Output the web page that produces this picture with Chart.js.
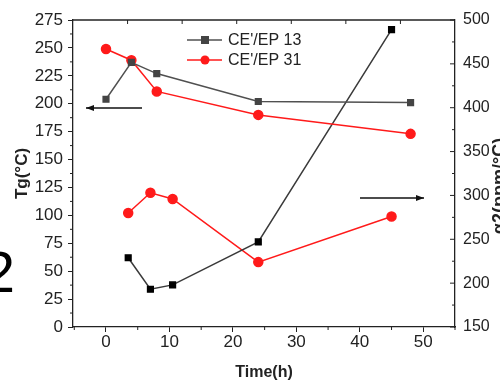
<!DOCTYPE html>
<html>
<head>
<meta charset="utf-8">
<script src="https://cdn.jsdelivr.net/npm/chart.js@4.4.1/dist/chart.umd.min.js"></script>
<style>
  html, body { margin: 0; padding: 0; background: #fff; }
  #wrap { width: 500px; height: 381px; }
</style>
</head>
<body>
<div id="wrap"><canvas id="c" width="500" height="381"></canvas></div>
<script>
// Tg series (left axis)
const tgTime = [0, 4, 8, 24, 48];
const tg13 = [204, 237, 227, 202, 201];
const tg31 = [249, 239, 211, 190, 173];

// alpha2 series (right axis)
const a2Time = [3.5, 7, 10.5, 24, 45];
const a2_13 = [229, 193, 198, 247, 489];
const a2_31 = [280, 303, 296, 224, 276];

const seriesNames = ["CE'/EP 13", "CE'/EP 31"];

const COLORS = {
  grayLine: '#505050',
  grayMark: '#444444',
  blackLine: '#3a3a3a',
  blackMark: '#000000',
  red: '#ff1a1a',
  axis: '#222222',
  text: '#222222',
};

const FONT = '"Liberation Sans", Arial, sans-serif';

function pts(xs, ys) {
  return xs.map((x, i) => ({ x: x, y: ys[i] }));
}

// minor ticks, box frame, arrows, legend and extra text
const decorPlugin = {
  id: 'decor',
  beforeDraw(chart) {
    const ctx = chart.ctx;
    ctx.save();
    ctx.fillStyle = '#fff';
    ctx.fillRect(0, 0, chart.width, chart.height);
    ctx.restore();
  },
  afterDraw(chart) {
    const ctx = chart.ctx;
    const a = chart.chartArea;
    const sx = chart.scales.x, yl = chart.scales.y, yr = chart.scales.y1;
    ctx.save();
    ctx.strokeStyle = COLORS.axis;
    ctx.lineWidth = 1.3;

    // frame top line
    ctx.beginPath();
    ctx.moveTo(a.left, a.top);
    ctx.lineTo(a.right, a.top);
    ctx.stroke();

    ctx.lineWidth = 1;
    ctx.beginPath();
    // top ticks (inward)
    for (let i = 1; i < 7; i++) {
      const px = a.left + (a.right - a.left) * i / 7;
      ctx.moveTo(px, a.top);
      ctx.lineTo(px, a.top + 4);
    }
    // bottom minor ticks
    for (let v = -5; v <= 55; v += 10) {
      const px = sx.getPixelForValue(v);
      if (px < a.left - 0.5 || px > a.right + 0.5) continue;
      ctx.moveTo(px, a.bottom);
      ctx.lineTo(px, a.bottom + 3);
    }
    // left minor ticks
    for (let v = 12.5; v < 275; v += 25) {
      const py = yl.getPixelForValue(v);
      ctx.moveTo(a.left, py);
      ctx.lineTo(a.left - 3, py);
    }
    // right ticks (inward), major + minor
    for (let v = 150; v <= 500; v += 25) {
      const py = yr.getPixelForValue(v);
      const len = (v % 50 === 0) ? 5 : 3;
      ctx.moveTo(a.right, py);
      ctx.lineTo(a.right - len, py);
    }
    ctx.stroke();

    // arrows
    function arrow(x1, x2, y) {
      ctx.strokeStyle = '#111';
      ctx.fillStyle = '#111';
      ctx.lineWidth = 1.3;
      ctx.beginPath();
      ctx.moveTo(x1, y);
      ctx.lineTo(x2, y);
      ctx.stroke();
      const dir = x2 > x1 ? 1 : -1;
      ctx.beginPath();
      ctx.moveTo(x2, y);
      ctx.lineTo(x2 - dir * 8, y - 3);
      ctx.lineTo(x2 - dir * 8, y + 3);
      ctx.closePath();
      ctx.fill();
    }
    arrow(142, 86, 108);
    arrow(360, 424, 198);

    // legend
    const items = [
      { y: 40, color: COLORS.grayLine, mark: COLORS.grayMark, style: 'rect' },
      { y: 60, color: COLORS.red, mark: COLORS.red, style: 'circle' },
    ];
    items.forEach((it, i) => {
      ctx.strokeStyle = it.color;
      ctx.lineWidth = 1.5;
      ctx.beginPath();
      ctx.moveTo(187, it.y);
      ctx.lineTo(222, it.y);
      ctx.stroke();
      ctx.fillStyle = it.mark;
      if (it.style === 'rect') {
        ctx.fillRect(201, it.y - 4, 8, 8);
      } else {
        ctx.beginPath();
        ctx.arc(205, it.y, 4.5, 0, Math.PI * 2);
        ctx.fill();
      }
      ctx.fillStyle = COLORS.text;
      ctx.font = '16px ' + FONT;
      ctx.textAlign = 'left';
      ctx.textBaseline = 'middle';
      ctx.fillText(seriesNames[i], 228, it.y + 1);
    });

    // right axis title, rotated like the left one, cut by the edge
    ctx.save();
    ctx.translate(500, 186);
    ctx.rotate(-Math.PI / 2);
    ctx.fillStyle = COLORS.text;
    ctx.font = 'bold 18px ' + FONT;
    ctx.textAlign = 'center';
    ctx.textBaseline = 'middle';
    ctx.fillText('\u03b12(ppm/\u00b0C)', 0, 0);
    ctx.restore();

    // large cropped "2" at the left edge
    ctx.fillStyle = '#000';
    ctx.font = '58px ' + FONT;
    ctx.textAlign = 'right';
    ctx.textBaseline = 'alphabetic';
    ctx.fillText('2', 15, 292);

    ctx.restore();
  }
};

const ctx = document.getElementById('c').getContext('2d');
new Chart(ctx, {
  type: 'line',
  data: {
    datasets: [
      {
        label: seriesNames[0],
        data: pts(tgTime, tg13),
        yAxisID: 'y',
        borderColor: COLORS.grayLine,
        backgroundColor: COLORS.grayMark,
        pointBackgroundColor: COLORS.grayMark,
        pointBorderColor: COLORS.grayMark,
        pointStyle: 'rect',
        pointRadius: 4,
        borderWidth: 1.5,
      },
      {
        label: seriesNames[1],
        data: pts(tgTime, tg31),
        yAxisID: 'y',
        borderColor: COLORS.red,
        backgroundColor: COLORS.red,
        pointBackgroundColor: COLORS.red,
        pointBorderColor: COLORS.red,
        pointStyle: 'circle',
        pointRadius: 4.5,
        borderWidth: 1.5,
      },
      {
        label: seriesNames[0] + ' a2',
        data: pts(a2Time, a2_13),
        yAxisID: 'y1',
        borderColor: COLORS.blackLine,
        backgroundColor: COLORS.blackMark,
        pointBackgroundColor: COLORS.blackMark,
        pointBorderColor: COLORS.blackMark,
        pointStyle: 'rect',
        pointRadius: 4,
        borderWidth: 1.5,
      },
      {
        label: seriesNames[1] + ' a2',
        data: pts(a2Time, a2_31),
        yAxisID: 'y1',
        borderColor: COLORS.red,
        backgroundColor: COLORS.red,
        pointBackgroundColor: COLORS.red,
        pointBorderColor: COLORS.red,
        pointStyle: 'circle',
        pointRadius: 4.5,
        borderWidth: 1.5,
      },
    ]
  },
  options: {
    responsive: false,
    animation: false,
    layout: { padding: { top: 20, left: 0, right: 0, bottom: 0 } },
    plugins: {
      legend: { display: false },
      tooltip: { enabled: false },
    },
    scales: {
      x: {
        type: 'linear',
        position: 'bottom',
        min: -5.2,
        max: 55,
        afterFit: (s) => { s.height = 54; },
        grid: { drawOnChartArea: false, tickLength: 5, color: COLORS.axis },
        border: { color: COLORS.axis, width: 1.3 },
        ticks: {
          stepSize: 10,
          includeBounds: false,
          maxTicksLimit: 20,
          padding: 0,
          color: COLORS.text,
          font: { family: FONT, size: 17 },
          maxRotation: 0,
        },
        title: {
          display: true,
          text: 'Time(h)',
          color: COLORS.text,
          font: { family: FONT, size: 16, weight: 'bold', lineHeight: 1 },
          padding: { top: 0, bottom: 0 },
        },
      },
      y: {
        type: 'linear',
        position: 'left',
        min: 0,
        max: 275,
        afterFit: (s) => { s.width = 73; },
        grid: { drawOnChartArea: false, tickLength: 5, color: COLORS.axis },
        border: { color: COLORS.axis, width: 1.3 },
        ticks: {
          stepSize: 25,
          maxTicksLimit: 20,
          padding: 5,
          color: COLORS.text,
          font: { family: FONT, size: 17 },
        },
        title: {
          display: true,
          text: 'Tg(\u00b0C)',
          color: COLORS.text,
          font: { family: FONT, size: 17, weight: 'bold', lineHeight: 1 },
          padding: { top: 14, bottom: 0 },
        },
      },
      y1: {
        type: 'linear',
        position: 'right',
        min: 150,
        max: 500,
        afterFit: (s) => { s.width = 45; },
        grid: { drawOnChartArea: false, drawTicks: false },
        border: { color: COLORS.axis, width: 1.3 },
        ticks: {
          stepSize: 50,
          maxTicksLimit: 20,
          padding: 8,
          color: COLORS.text,
          font: { family: FONT, size: 16 },
        },
      },
    }
  },
  plugins: [decorPlugin]
});
</script>
</body>
</html>
